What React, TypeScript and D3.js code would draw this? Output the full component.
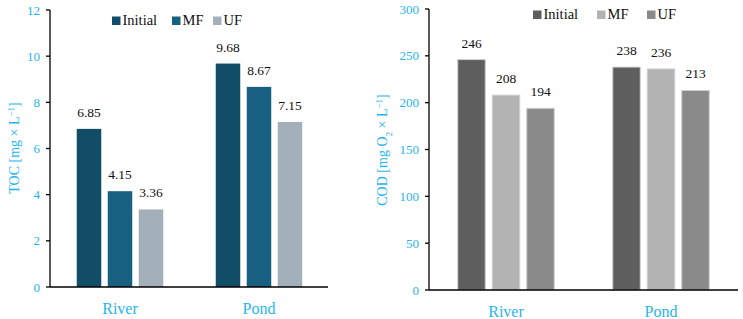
import React, { useEffect, useRef } from 'react'
import * as d3 from 'd3'

const sites = ['River', 'Pond']
const stages = ['Initial', 'MF', 'UF']

const tocValues = [
  [6.85, 4.15, 3.36],
  [9.68, 8.67, 7.15],
]
const codValues = [
  [246, 208, 194],
  [238, 236, 213],
]

const tocTicks = [0, 2, 4, 6, 8, 10, 12]
const codTicks = [0, 50, 100, 150, 200, 250, 300]

const tocColors = ['#124d68', '#17607f', '#a3afb9']
const codColors = ['#5e5e5e', '#b3b3b3', '#8a8a8a']

const FONT = '"Liberation Serif", "DejaVu Serif", serif'
const BLUE = '#1fb5f2'

export default function App() {
  const ref = useRef<SVGSVGElement>(null)

  useEffect(() => {
    const svg = d3.select(ref.current)
    svg.selectAll('*').remove()

    function panel(opts: any) {
      const { x0, x1, yTop, yBot, max, ticks, values, colors, legendX, legendY, barW, gap, stroke, fmt } = opts
      const g = svg.append('g')

      const y = d3.scaleLinear().domain([0, max]).range([yBot, yTop])
      const xc = d3.scalePoint().domain(sites).range(opts.centers)

      // y ticks
      g.selectAll('.tk')
        .data(ticks)
        .enter()
        .append('text')
        .attr('x', x0 - 10)
        .attr('y', (d: number) => y(d) + 4.5)
        .attr('text-anchor', 'end')
        .style('font-family', FONT)
        .style('font-size', '13px')
        .attr('fill', BLUE)
        .text((d: number) => d)

      g.selectAll('.tl')
        .data(ticks)
        .enter()
        .append('line')
        .attr('x1', x0 - 4)
        .attr('x2', x0)
        .attr('y1', (d: number) => y(d))
        .attr('y2', (d: number) => y(d))
        .attr('stroke', 'black')
        .attr('stroke-width', 1.3)

      // bars
      sites.forEach((s, si) => {
        const c = xc(s) as number
        values[si].forEach((v: number, k: number) => {
          const bx = c + (k - 1) * (barW + gap) - barW / 2
          g.append('rect')
            .attr('x', bx)
            .attr('y', y(v))
            .attr('width', barW)
            .attr('height', y(0) - y(v))
            .attr('fill', colors[k])
            .attr('stroke', stroke ? '#d0d0d0' : 'none')
            .attr('stroke-width', stroke ? 1 : 0)
          g.append('text')
            .attr('x', bx + barW / 2)
            .attr('y', y(v) - 12)
            .attr('text-anchor', 'middle')
            .style('font-family', FONT)
            .style('font-size', '13.5px')
            .attr('fill', '#111')
            .text(fmt(v))
        })
        g.append('text')
          .attr('x', c)
          .attr('y', yBot + 27)
          .attr('text-anchor', 'middle')
          .style('font-family', FONT)
          .style('font-size', '16px')
          .attr('fill', BLUE)
          .text(s)
      })

      // axes
      g.append('line')
        .attr('x1', x0).attr('x2', x0)
        .attr('y1', yTop).attr('y2', yBot)
        .attr('stroke', 'black').attr('stroke-width', 1.3)
      g.append('line')
        .attr('x1', x0).attr('x2', x1)
        .attr('y1', yBot).attr('y2', yBot)
        .attr('stroke', 'black').attr('stroke-width', 1.3)

      // legend
      stages.forEach((st, k) => {
        const lx = legendX[k]
        g.append('rect')
          .attr('x', lx)
          .attr('y', legendY - 8.5)
          .attr('width', 8.5)
          .attr('height', 8.5)
          .attr('fill', colors[k])
        g.append('text')
          .attr('x', lx + 10.5)
          .attr('y', legendY)
          .style('font-family', FONT)
          .style('font-size', '14.5px')
          .attr('fill', '#111')
          .text(st)
      })
      return g
    }

    panel({
      x0: 50, x1: 328, yTop: 10, yBot: 287, max: 12, ticks: tocTicks,
      values: tocValues, colors: tocColors, centers: [120, 259],
      legendX: [112, 172, 213], legendY: 25, barW: 24.5, gap: 6.5, stroke: false,
      fmt: (v: number) => v.toFixed(2),
    })
    panel({
      x0: 429, x1: 738, yTop: 9, yBot: 290, max: 300, ticks: codTicks,
      values: codValues, colors: codColors, centers: [506, 661],
      legendX: [533, 597, 647], legendY: 19, barW: 27.5, gap: 7, stroke: true,
      fmt: (v: number) => String(v),
    })

    // axis titles
    const t1 = svg.append('text')
      .attr('transform', 'translate(19,148) rotate(-90)')
      .attr('text-anchor', 'middle')
      .style('font-family', FONT)
      .style('font-size', '14px')
      .attr('fill', BLUE)
    t1.append('tspan').text('TOC [mg × L')
    t1.append('tspan').attr('baseline-shift', 'super').style('font-size', '9px').text('−1')
    t1.append('tspan').text(']')

    const t2 = svg.append('text')
      .attr('transform', 'translate(387,150) rotate(-90)')
      .attr('text-anchor', 'middle')
      .style('font-family', FONT)
      .style('font-size', '14px')
      .attr('fill', BLUE)
    t2.append('tspan').text('COD [mg O')
    t2.append('tspan').attr('baseline-shift', 'sub').style('font-size', '9px').text('2')
    t2.append('tspan').text(' × L')
    t2.append('tspan').attr('baseline-shift', 'super').style('font-size', '9px').text('−1')
    t2.append('tspan').text(']')
  }, [])

  return (
    <svg
      ref={ref}
      width={743}
      height={319}
      style={{ position: 'absolute', left: 0, top: 0, background: 'white' }}
    />
  )
}
